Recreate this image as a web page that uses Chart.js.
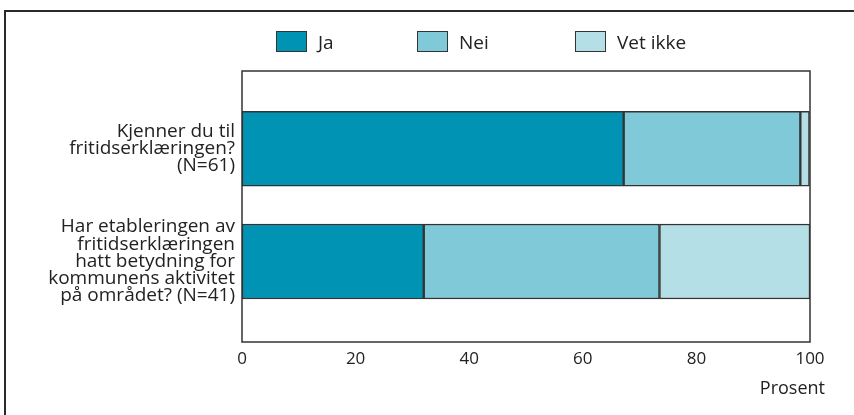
<!DOCTYPE html>
<html>
<head>
<meta charset="utf-8">
<script src="https://cdn.jsdelivr.net/npm/chart.js@4"></script>
<style>
  html, body { margin: 0; padding: 0; background: #fff; }
  #wrap { position: relative; width: 854px; height: 415px; overflow: hidden; }
  #frame { position: absolute; left: 4px; top: 10px; width: 900px; height: 500px;
           border-left: 2px solid #2a2a2a; border-top: 2px solid #2a2a2a; box-sizing: border-box; }
  #chartBox { position: absolute; left: 0; top: 0; width: 854px; height: 415px; }
  #legend { position: absolute; top: 31px; left: 276px; display: grid;
            grid-template-columns: 141px 158px auto; font-family: "Open Sans", sans-serif;
            font-size: 19px; color: #222; }
  .item { display: flex; align-items: center; height: 21px; }
  .box { width: 31px; height: 21px; box-sizing: border-box; border: 1.5px solid #333; margin-right: 11px; }
</style>
</head>
<body>
<div id="wrap">
  <div id="frame"></div>
  <div id="chartBox"><canvas id="c"></canvas></div>
  <div id="legend"></div>
</div>
<script>
const categories = [
  ["Kjenner du til", "fritidserklæringen?", "(N=61)"],
  ["Har etableringen av", "fritidserklæringen", "hatt betydning for", "kommunens aktivitet", "på området? (N=41)"]
];
const seriesNames = ["Ja", "Nei", "Vet ikke"];
const jaValues = [67.2, 32.0];
const neiValues = [31.1, 41.5];
const vetIkkeValues = [1.6, 26.5];
const xTicks = [0, 20, 40, 60, 80, 100];
const axisTitle = "Prosent";

const colors = ["#0093b3", "#80c9d8", "#b4dfe7"];
const seriesValues = [jaValues, neiValues, vetIkkeValues];

const datasets = seriesNames.map((name, s) => ({
  label: name,
  data: seriesValues[s].map((v, i) => ({ x: v, y: i })),
  backgroundColor: colors[s],
  borderColor: "#333",
  borderWidth: 1.5,
  borderSkipped: false,
  barThickness: 75
}));

const font = "'Open Sans', sans-serif";

const plotFrame = {
  id: "plotFrame",
  afterDatasetsDraw(chart) {
    const { ctx, chartArea: a } = chart;
    ctx.save();
    ctx.strokeStyle = "#333";
    ctx.lineWidth = 1.5;
    ctx.strokeRect(a.left, a.top, a.right - a.left, a.bottom - a.top);
    ctx.restore();
  },
  afterDraw(chart) {
    const { ctx } = chart;
    const sx = chart.scales.x;
    ctx.save();
    ctx.fillStyle = "#222";
    ctx.font = "18px " + font;
    ctx.textAlign = "right";
    ctx.textBaseline = "middle";
    ctx.fillText(axisTitle, sx.right + 15, sx.bottom + 12);
    ctx.restore();
  }
};

const chart = new Chart(document.getElementById("c"), {
  type: "bar",
  data: { datasets },
  options: {
    indexAxis: "y",
    responsive: true,
    maintainAspectRatio: false,
    animation: false,
    layout: { padding: { top: 71, right: 44, bottom: 38, left: 0 } },
    plugins: { legend: { display: false }, tooltip: { enabled: false } },
    scales: {
      x: {
        type: "linear", stacked: true, min: 0, max: 100,
        grid: { display: false, drawTicks: false }, border: { display: false },
        afterBuildTicks: s => { s.ticks = xTicks.map(v => ({ value: v })); },
        afterFit: s => { s.height = 35; },
        ticks: { color: "#222", font: { family: font, size: 17 }, padding: 7, maxRotation: 0 }
      },
      y: {
        type: "linear", stacked: true, reverse: true, offset: false, min: -0.69, max: 1.714,
        grid: { display: false, drawTicks: false }, border: { display: false },
        afterBuildTicks: s => { s.ticks = categories.map((c, i) => ({ value: i })); },
        afterFit: s => { s.width = 242; },
        ticks: { color: "#222", font: { family: font, size: 19, lineHeight: 0.91 }, padding: 7,
                 callback: v => categories[v] }
      }
    }
  },
  plugins: [plotFrame]
});

const legend = document.getElementById("legend");
chart.data.datasets.forEach(ds => {
  const item = document.createElement("div");
  item.className = "item";
  const box = document.createElement("span");
  box.className = "box";
  box.style.background = ds.backgroundColor;
  const t = document.createElement("span");
  t.textContent = ds.label;
  item.appendChild(box); item.appendChild(t);
  legend.appendChild(item);
});
</script>
</body>
</html>
